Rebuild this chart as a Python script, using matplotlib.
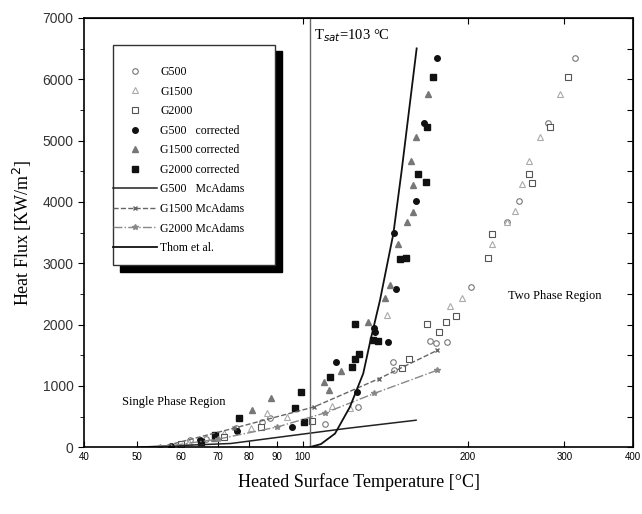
import matplotlib
matplotlib.use("Agg")
import matplotlib.pyplot as plt
from matplotlib.patches import Rectangle

plt.rcParams['font.family'] = ['Liberation Serif', 'DejaVu Serif']

# Open symbols (uncorrected)
g500_T = [313, 280, 248, 236, 218, 203, 171, 175, 183, 146, 146.6, 126.4, 109.7, 87.4, 84.4, 75.8, 66.6, 62.3]
g500_q = [6340, 5280, 4013, 3676, 3078, 2615, 1734, 1701, 1718, 1392, 1256, 657, 386, 468, 413, 305, 126, 114]

g1500_T = [295, 270.6, 258.5, 251.4, 243.8, 236, 221, 195.5, 186, 142.3, 113, 122, 93.6, 86, 80.5, 72, 62]
g1500_q = [5753, 5052, 4670, 4286, 3855, 3676, 3307, 2436, 2300, 2153, 669, 631, 494, 560, 305, 230, 90]

g2000_T = [304, 282, 259, 261.5, 221.7, 218, 168.4, 182.3, 190.1, 177.5, 156, 152, 104, 84, 72, 60]
g2000_q = [6040, 5215, 4449, 4312, 3470, 3078, 2007, 2034, 2142, 1871, 1431, 1284, 420, 330, 170, 60]

# Filled symbols (corrected)
g500c_T = [175.6, 166.5, 161, 146.8, 148, 134.7, 135.5, 143, 115, 125.5, 95.5, 76, 65, 57.6]
g500c_q = [6341, 5281, 4013, 3486, 2573, 1936, 1881, 1718, 1392, 902, 331, 260, 120, 16]

g1500c_T = [169.6, 161, 157.4, 158.7, 159.2, 154.8, 149, 144.3, 141.3, 131.8, 117.5, 109.4, 111.6, 87.6, 80.8, 69]
g1500c_q = [5753, 5052, 4670, 4274, 3839, 3676, 3311, 2643, 2436, 2044, 1245, 1065, 930, 810, 604, 150]

g2000c_T = [173, 168.3, 162.5, 167.9, 150.5, 154.2, 124.6, 134.4, 137.3, 126.7, 124.6, 122.9, 112.2, 99.2, 96.9, 100.8, 76.7, 69.3, 65.3]
g2000c_q = [6031, 5215, 4449, 4318, 3062, 3078, 2007, 1746, 1734, 1512, 1431, 1310, 1147, 902, 631, 413, 484, 196, 86]

# Correlations
mc500_T = [50, 74, 91, 120, 161]
mc500_q = [0, 60, 165, 305, 440]
mc1500_T = [55, 75, 105, 138, 176]
mc1500_q = [0, 310, 657, 1120, 1580]
mc2000_T = [55, 70, 90, 110, 135, 176]
mc2000_q = [0, 130, 330, 560, 876, 1256]
thom_T = [103, 108, 114.6, 122, 129, 133, 138.4, 146.4, 151.6, 161.4]
thom_q = [0, 50, 222, 657, 1202, 1746, 2398, 3486, 4519, 6504]

T_sat = 103
x_ticks = [40, 50, 60, 70, 80, 90, 100, 200, 300, 400]

fig = plt.figure(figsize=(6.42, 5.14), dpi=100)
ax = fig.add_axes([0.131, 0.130, 0.855, 0.835])

ms = 4
ax.plot(g500_T, g500_q, 'o', ls='none', ms=ms, mfc='white', mec='#777777', mew=0.8, label='G500')
ax.plot(g1500_T, g1500_q, '^', ls='none', ms=ms, mfc='white', mec='#aaaaaa', mew=0.8, label='G1500')
ax.plot(g2000_T, g2000_q, 's', ls='none', ms=ms, mfc='white', mec='#555555', mew=0.8, label='G2000')
ax.plot(g500c_T, g500c_q, 'o', ls='none', ms=ms, color='#111111', label='G500   corrected')
ax.plot(g1500c_T, g1500c_q, '^', ls='none', ms=ms, color='#777777', label='G1500 corrected')
ax.plot(g2000c_T, g2000c_q, 's', ls='none', ms=ms, color='#111111', label='G2000 corrected')

ax.plot(mc500_T, mc500_q, '-', color='#222222', lw=1.1, label='G500   McAdams')
ax.plot(mc1500_T, mc1500_q, '--', color='#666666', lw=1.0, marker='x', ms=3.5, label='G1500 McAdams')
ax.plot(mc2000_T, mc2000_q, '-.', color='#888888', lw=1.0, marker='*', ms=4, label='G2000 McAdams')
ax.plot(thom_T, thom_q, '-', color='#111111', lw=1.3, label='Thom et al.')

ax.axvline(T_sat, color='#666666', lw=1.0)

ax.set_xscale('log')
ax.set_xlim(40, 400)
ax.set_ylim(0, 7000)
ax.set_xticks(x_ticks)
ax.set_xticklabels([str(t) for t in x_ticks], family='Liberation Sans', fontsize=7)
ax.minorticks_off()
ax.set_yticks(range(0, 7001, 1000))
ax.set_yticks(range(500, 7000, 1000), minor=True)
for lab in ax.get_yticklabels():
    lab.set_family('Liberation Sans')
    lab.set_fontsize(10)
    lab.set_color('#333333')

ax.tick_params(axis='x', which='both', direction='in', length=4, top=False)
ax.tick_params(axis='y', which='major', direction='out', length=4, right=False)
ax.tick_params(axis='y', which='minor', direction='out', length=3, right=False)

top = ax.secondary_xaxis('top')
top.set_xticks([100, 200, 300])
top.set_xticklabels([])
top.minorticks_off()
top.tick_params(direction='in', length=4)
right = ax.secondary_yaxis('right')
right.set_yticks(range(0, 7001, 500))
right.set_yticklabels([])
right.tick_params(direction='in', length=4)

for sp in ax.spines.values():
    sp.set_linewidth(1.2)

ax.set_xlabel('Heated Surface Temperature [°C]', fontsize=13, labelpad=8)
ax.set_ylabel('Heat Flux [KW/m$^2$]', fontsize=13, labelpad=6)

ax.text(105, 6650, 'T$_{sat}$=103 °C', fontsize=10.5)
ax.text(46.9, 734, 'Single Phase Region', fontsize=9, va='center')
ax.text(236.8, 2463, 'Two Phase Region', fontsize=9, va='center')

# legend box with a hard black drop shadow
bx0, by0, bw, bh = 0.053, 0.424, 0.295, 0.513
ax.add_patch(Rectangle((bx0 + 0.012, by0 - 0.015), bw, bh, transform=ax.transAxes,
                       facecolor='black', edgecolor='black', zorder=8))
ax.add_patch(Rectangle((bx0, by0), bw, bh, transform=ax.transAxes,
                       facecolor='white', edgecolor='#333333', lw=1.0, zorder=9))

leg = ax.legend(loc='upper left', bbox_to_anchor=(0.053, 0.888), fontsize=8.5,
                frameon=False, handlelength=3.7, handletextpad=0.3,
                labelspacing=0.64, borderpad=0, borderaxespad=0, numpoints=1)
leg.set_zorder(10)

fig.savefig('out.png', dpi=100)
